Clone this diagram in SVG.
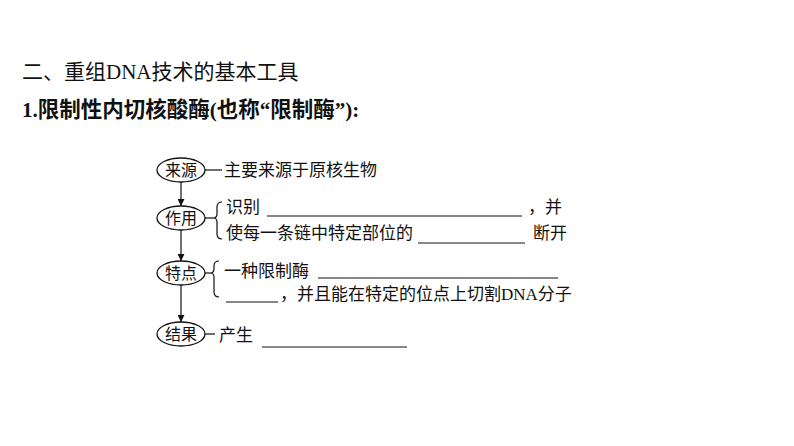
<svg xmlns="http://www.w3.org/2000/svg" width="794" height="446" viewBox="0 0 794 446">
<defs>
<style>
.t{font-family:"Noto Sans CJK SC","Liberation Serif",sans-serif;font-size:17px;fill:#111}
.e{font-family:"Noto Sans CJK SC",sans-serif;font-size:16px;fill:#111}
.lat{font-family:"Liberation Serif",serif}
.h1{font-family:"Noto Sans CJK SC",sans-serif;font-size:21px;fill:#111}
.h2{font-family:"Noto Sans CJK SC",sans-serif;font-size:21.5px;font-weight:bold;fill:#111}
.ln{stroke:#111;stroke-width:1.2;fill:none}
.ul{stroke:#111;stroke-width:1.2}
.el{fill:#fff;stroke:#111;stroke-width:1.3}
</style>
<marker id="ah" viewBox="0 0 10 10" refX="10" refY="5" markerWidth="7" markerHeight="7" orient="auto" markerUnits="userSpaceOnUse">
<path d="M0,0 L10,5 L0,10 z" fill="#111"/>
</marker>
</defs>
<rect width="794" height="446" fill="#fff"/>
<text class="h1" x="22" y="79">二、重组<tspan class="lat">DNA</tspan>技术的基本工具</text>
<text class="h2" x="22" y="117"><tspan class="lat" font-size="21">1.</tspan>限制性内切核酸酶<tspan class="lat" font-size="21">(</tspan>也称<tspan class="lat" font-size="21">“</tspan>限制酶<tspan class="lat" font-size="21">”):</tspan></text>
<g id="connectors">
<line class="ln" x1="181" y1="182" x2="181" y2="206" marker-end="url(#ah)"/>
<line class="ln" x1="181" y1="230" x2="181" y2="261" marker-end="url(#ah)"/>
<line class="ln" x1="181" y1="285" x2="181" y2="322" marker-end="url(#ah)"/>
<line class="ln" x1="205" y1="170" x2="222" y2="170"/>
<line class="ln" x1="205" y1="218" x2="213" y2="218"/>
<line class="ln" x1="205" y1="273" x2="210" y2="273"/>
<line class="ln" x1="205" y1="334" x2="215" y2="334"/>
<path class="ln" d="M222,202 Q217,202 217,207 L217,214 Q217,218 213,218 Q217,218 217,222 L217,234 Q217,239 222,239"/>
<path class="ln" d="M219,261 Q214,261 214,266 L214,269 Q214,273 210,273 Q214,273 214,277 L214,292 Q214,297 219,297"/>
</g>
<g id="node-laiyuan">
<ellipse class="el" cx="181" cy="170" rx="24" ry="12"/>
<text class="e" x="181" y="176" text-anchor="middle">来源</text>
<text class="t" x="224" y="176">主要来源于原核生物</text>
</g>
<g id="node-zuoyong">
<ellipse class="el" cx="181" cy="218" rx="24" ry="12"/>
<text class="e" x="181" y="224" text-anchor="middle">作用</text>
<text class="t" x="226" y="213">识别</text>
<line class="ul" x1="267" y1="216" x2="522" y2="216"/>
<text class="t" x="528" y="213">，并</text>
<text class="t" x="226" y="239">使每一条链中特定部位的</text>
<line class="ul" x1="418" y1="243" x2="525" y2="243"/>
<text class="t" x="533" y="239">断开</text>
</g>
<g id="node-tedian">
<ellipse class="el" cx="181" cy="273" rx="24" ry="12"/>
<text class="e" x="181" y="279" text-anchor="middle">特点</text>
<text class="t" x="224" y="277">一种限制酶</text>
<line class="ul" x1="318" y1="278" x2="558" y2="278"/>
<line class="ul" x1="226" y1="302" x2="278" y2="302"/>
<text class="t" x="280" y="300">，并且能在特定的位点上切割<tspan class="lat">DNA</tspan>分子</text>
</g>
<g id="node-jieguo">
<ellipse class="el" cx="181" cy="334" rx="24" ry="12"/>
<text class="e" x="181" y="340" text-anchor="middle">结果</text>
<text class="t" x="219" y="341">产生</text>
<line class="ul" x1="262" y1="347" x2="407" y2="347"/>
</g>
</svg>
